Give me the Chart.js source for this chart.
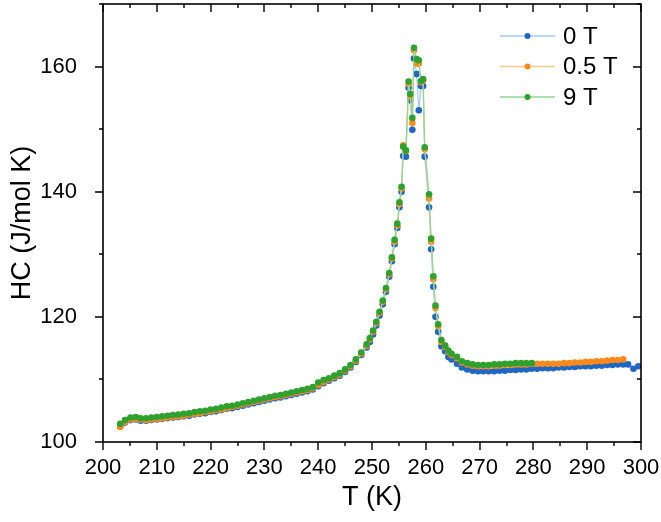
<!DOCTYPE html>
<html>
<head>
<meta charset="utf-8">
<script src="https://cdn.jsdelivr.net/npm/chart.js@4"></script>
<style>
  html, body { margin: 0; padding: 0; background: #fff; }
  #wrap { width: 661px; height: 522px; position: relative; }
</style>
</head>
<body>
<div id="wrap"><canvas id="hcChart"></canvas></div>
<script>
// temperature points (K)
const temps = [
  203.2, 204.1, 205.1, 206.1, 207, 208, 209, 210, 211, 212, 213, 214, 215, 216, 217, 218, 219, 220,
  221, 222, 223, 224, 225, 226, 227, 228, 229, 230, 231, 232, 233, 234, 235, 236, 237, 238, 239, 240,
  241, 242, 243, 244, 245, 246, 247, 248, 249,
  249.6, 250.2, 250.8, 251.4, 252.0, 252.6, 253.2, 253.7, 254.2, 254.7, 255.1, 255.5, 255.8, 256.3,
  256.8, 257.1, 257.5, 257.8, 258.3, 258.7, 259.1, 259.5, 259.8, 260.6, 261.0, 261.4, 261.8, 262.3,
  262.9, 263.6, 264.2, 264.8, 265.8, 266.7, 267.7,
  268.7, 269.7, 270.7, 271.7, 272.7, 273.7, 274.7, 275.7, 276.7, 277.7, 278.7, 279.7,
  280.7, 281.7, 282.7, 283.7, 284.7, 285.7, 286.7, 287.7, 288.7, 289.7, 290.7, 291.7, 292.7, 293.7,
  294.7, 295.7, 296.7,
  297.6, 298.6, 299.5
];

// heat capacity, 0 T (runs to 300 K)
const hc0T = [
  102.5, 103.1, 103.5, 103.6, 103.4, 103.4, 103.5, 103.6, 103.7, 103.8, 103.9, 104.0, 104.1, 104.2,
  104.4, 104.5, 104.6, 104.8, 104.9, 105.1, 105.3, 105.4, 105.6, 105.8, 106.0, 106.2, 106.4, 106.6,
  106.8, 107.0, 107.1, 107.3, 107.5, 107.7, 107.9, 108.1, 108.4, 108.9, 109.4, 109.8, 110.2, 110.6,
  111.2, 111.9, 112.8, 113.9, 115.1,
  116.0, 117.2, 118.6, 120.2, 122.0, 124.0, 126.4, 128.9, 131.6, 134.2, 137.5, 140.0, 145.7, 145.6,
  156.6, 154.6, 149.9, 161.3, 158.8, 153.0, 156.9, 156.9, 145.6, 137.5, 130.8, 124.8, 120.0, 117.6,
  115.3, 114.5, 113.6, 113.2, 112.5, 111.9, 111.6,
  111.4, 111.3, 111.3, 111.3, 111.3, 111.4, 111.4, 111.5, 111.5, 111.6, 111.6, 111.7,
  111.7, 111.8, 111.8, 111.8, 111.9, 111.9, 112.0, 112.0, 112.1, 112.1, 112.1, 112.2, 112.2, 112.3,
  112.3, 112.4, 112.4,
  112.4, 111.7, 112.1
];

// heat capacity, 0.5 T (stops near 297 K)
const hc05T = [
  102.4, 103.2, 103.6, 103.7, 103.6, 103.5, 103.6, 103.7, 103.8, 103.9, 104.0, 104.1, 104.2, 104.4,
  104.5, 104.6, 104.8, 104.9, 105.1, 105.2, 105.4, 105.6, 105.8, 106.0, 106.2, 106.4, 106.6, 106.8,
  107.0, 107.2, 107.3, 107.5, 107.7, 107.9, 108.1, 108.3, 108.6, 109.1, 109.6, 110.0, 110.4, 110.8,
  111.4, 112.1, 113.0, 114.1, 115.4,
  116.4, 117.6, 119.0, 120.6, 122.4, 124.4, 126.8, 129.3, 132.0, 134.6, 138.0, 140.5, 147.4, 146.5,
  157.2, 155.2, 151.0, 162.6, 160.5, 160.5, 157.5, 157.8, 146.8, 138.9, 132.0, 126.0, 121.4, 118.5,
  116.0, 115.2, 114.4, 113.9, 113.4, 112.7, 112.4,
  112.2, 112.1, 112.1, 112.1, 112.2, 112.2, 112.3, 112.3, 112.4, 112.4, 112.4, 112.5,
  112.5, 112.5, 112.5, 112.5, 112.5, 112.6, 112.6, 112.7, 112.7, 112.8, 112.8, 112.9, 112.9, 113.0,
  113.1, 113.1, 113.2
];

// heat capacity, 9 T (stops near 280 K)
const hc9T = [
  102.9, 103.5, 103.9, 104.0, 103.8, 103.8, 103.9, 104.0, 104.1, 104.2, 104.3, 104.4, 104.5, 104.6,
  104.8, 104.9, 105.0, 105.2, 105.3, 105.5, 105.7, 105.8, 106.0, 106.2, 106.4, 106.6, 106.8, 107.0,
  107.2, 107.4, 107.5, 107.7, 107.9, 108.1, 108.3, 108.5, 108.8, 109.5, 109.9, 110.2, 110.6, 111.0,
  111.6, 112.3, 113.2, 114.3, 115.6,
  116.6, 117.8, 119.2, 120.8, 122.6, 124.6, 127.0, 129.5, 132.3, 134.9, 138.3, 140.8, 147.2, 146.6,
  157.6, 155.6, 151.8, 163.0, 161.2, 161.0, 157.7, 158.0, 147.1, 139.6, 132.5, 126.5, 121.8, 118.8,
  116.3, 115.4, 114.6, 114.1, 113.6, 112.9, 112.6,
  112.4, 112.3, 112.3, 112.3, 112.4, 112.4, 112.5, 112.5, 112.6, 112.6, 112.6, 112.6
];

const seriesNames = ['0 T', '0.5 T', '9 T'];
const xTicks = [200, 210, 220, 230, 240, 250, 260, 270, 280, 290, 300];
const yTicks = [100, 120, 140, 160];

const FONT = '"Liberation Sans", Arial, sans-serif';

function toPoints(values) {
    return values.map((v, i) => ({ x: temps[i], y: v }));
}

function makeSet(label, values, lineColor, dotColor, order) {
    return {
        label: label,
        data: toPoints(values),
        showLine: true,
        borderColor: lineColor,
        borderWidth: 1.2,
        backgroundColor: dotColor,
        pointBackgroundColor: dotColor,
        pointBorderColor: dotColor,
        pointBorderWidth: 0,
        pointRadius: 3.3,
        order: order
    };
}

// frame + major/minor ticks like the origin-style plot
const framePlugin = {
    id: 'frame',
    afterDraw(chart) {
        const { ctx, chartArea: a, scales } = chart;
        const sx = scales.x, sy = scales.y;
        ctx.save();
        ctx.strokeStyle = '#000';
        ctx.lineWidth = 1.6;
        ctx.strokeRect(a.left, a.top, a.right - a.left, a.bottom - a.top);
        ctx.lineWidth = 1.4;
        ctx.beginPath();
        for (let v = 200; v <= 300; v += 5) {
            const px = Math.round(sx.getPixelForValue(v));
            const len = v % 10 === 0 ? 8 : 4;
            ctx.moveTo(px, a.bottom); ctx.lineTo(px, a.bottom + len);
            ctx.moveTo(px, a.top); ctx.lineTo(px, a.top + len);
        }
        for (let v = 100; v <= 170; v += 10) {
            const py = Math.round(sy.getPixelForValue(v));
            const len = v % 20 === 0 ? 8 : 4;
            ctx.moveTo(a.left, py); ctx.lineTo(a.left - len, py);
            ctx.moveTo(a.right, py); ctx.lineTo(a.right - len, py);
        }
        ctx.stroke();

        // legend, top right inside the frame
        ctx.font = '24px ' + FONT;
        ctx.textBaseline = 'middle';
        ctx.fillStyle = '#000';
        chart.data.datasets.forEach((ds, i) => {
            const y = 36 + i * 30.5;
            ctx.strokeStyle = ds.borderColor;
            ctx.lineWidth = 1.5;
            ctx.beginPath();
            ctx.moveTo(500, y); ctx.lineTo(555, y);
            ctx.stroke();
            ctx.fillStyle = ds.pointBackgroundColor;
            ctx.beginPath();
            ctx.arc(527.5, y, 3, 0, Math.PI * 2);
            ctx.fill();
            ctx.fillStyle = '#000';
            ctx.fillText(ds.label, 563, y + 1);
        });
        ctx.restore();
    }
};

function initHeatCapacityChart() {
    const ctx = document.getElementById('hcChart').getContext('2d');

    const data = {
        datasets: [
            makeSet(seriesNames[0], hc0T, '#a9c9ee', '#1f67c4', 3),
            makeSet(seriesNames[1], hc05T, '#ffc58a', '#ff8a1c', 2),
            makeSet(seriesNames[2], hc9T, '#8fd88f', '#2ea12e', 1)
        ]
    };

    const config = {
        type: 'scatter',
        data: data,
        options: {
            responsive: true,
            maintainAspectRatio: false,
            animation: false,
            layout: { padding: { top: 3, right: 20, left: 0, bottom: 0 } },
            plugins: {
                legend: { display: false },
                tooltip: { enabled: false }
            },
            scales: {
                x: {
                    type: 'linear',
                    min: 200,
                    max: 300,
                    afterFit: (s) => { s.height = 80; s.paddingLeft = 0; s.paddingRight = 0; },
                    afterBuildTicks: (s) => { s.ticks = xTicks.map(v => ({ value: v })); },
                    grid: { display: false, drawTicks: false },
                    border: { display: false },
                    ticks: {
                        autoSkip: false,
                        maxRotation: 0,
                        padding: 13,
                        color: '#000',
                        font: { family: FONT, size: 22 }
                    },
                    title: {
                        display: true,
                        text: 'T (K)',
                        color: '#000',
                        font: { family: FONT, size: 27 },
                        padding: { top: 0, bottom: 8 }
                    }
                },
                y: {
                    type: 'linear',
                    min: 100,
                    max: 170,
                    afterFit: (s) => { s.width = 103; s.paddingTop = 0; s.paddingBottom = 0; },
                    afterBuildTicks: (s) => { s.ticks = yTicks.map(v => ({ value: v })); },
                    grid: { display: false, drawTicks: false },
                    border: { display: false },
                    ticks: {
                        autoSkip: false,
                        padding: 26,
                        color: '#000',
                        font: { family: FONT, size: 22 }
                    },
                    title: {
                        display: true,
                        text: 'HC (J/mol K)',
                        color: '#000',
                        font: { family: FONT, size: 27 },
                        padding: { top: 6, bottom: 0 }
                    }
                }
            }
        },
        plugins: [framePlugin]
    };

    new Chart(ctx, config);
}

document.addEventListener('DOMContentLoaded', initHeatCapacityChart);
</script>
</body>
</html>
